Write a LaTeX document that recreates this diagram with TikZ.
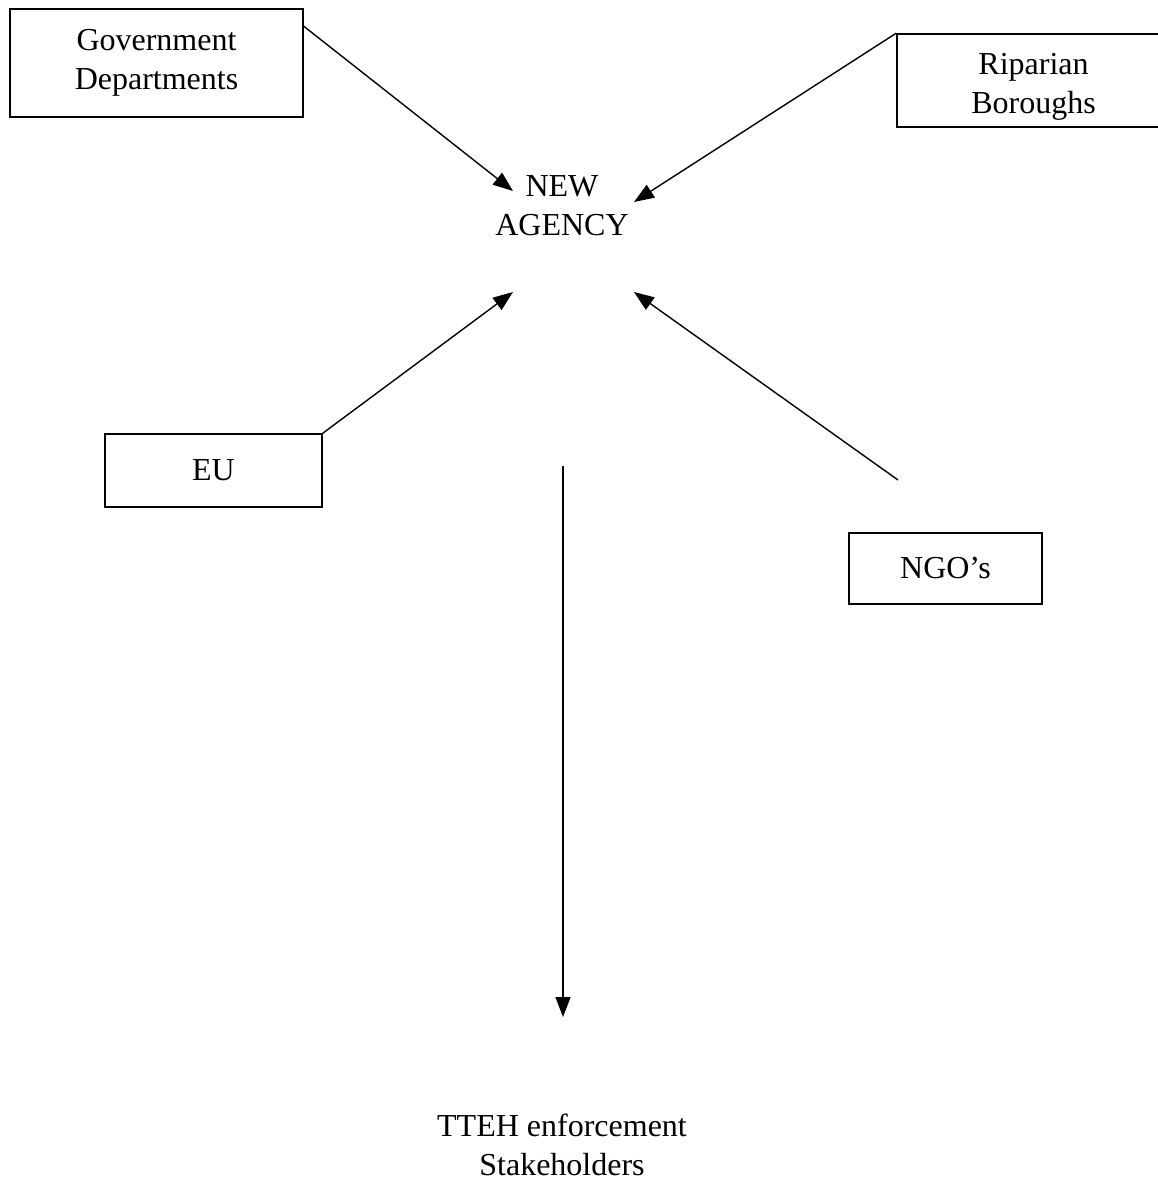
\documentclass[tikz,border=0pt]{standalone}
\usepackage{fontspec}
\setmainfont{Liberation Serif}
\usetikzlibrary{arrows.meta,calc}
\begin{document}
\begin{tikzpicture}[x=1pt,y=-1pt,
  txt/.style={inner sep=0pt,align=center,font=\fontsize{32}{39}\selectfont},
  box/.style={txt,draw,line width=1.6pt},
  link/.style={line width=1.4pt,-{Triangle[length=20pt,width=15pt]}}]
\useasboundingbox (0,0) rectangle (1157,1182);

% source boxes
\node[box,minimum width=293pt,minimum height=108pt] (gov) at (156.5,63) {Government\\Departments};
\node[box,minimum width=273pt,minimum height=93pt,
      label={[txt,yshift=-6pt]center:Riparian\\Boroughs}] (rip) at (1033.5,80.5) {};
\node[box,minimum width=217pt,minimum height=73pt] (eu) at (213.5,470.5) {EU};
\node[box,minimum width=193pt,minimum height=71pt] (ngo) at (945.5,568.5) {NGO's};

% central agency and downstream stakeholders
\node[txt] (agency) at (562,206) {NEW\\AGENCY};
\node[txt] (tteh) at (562,1145) {TTEH enforcement\\Stakeholders};

% arrow ends around the agency label
\coordinate (inNW) at (513,191);
\coordinate (inNE) at (634,202);
\coordinate (inSW) at (513,292);
\coordinate (inSE) at (634,292);
\coordinate (ngotail) at (898,480);
\coordinate (downtop) at (563,466);
\coordinate (downtip) at (563,1017);

\draw[link] (gov.14) -- (inNW);
\draw[link] (rip.north west) -- (inNE);
\draw[link] (eu.north east) -- (inSW);
\draw[link] (ngotail) -- (inSE);
\draw[link] (downtop) -- (downtip);
\end{tikzpicture}
\end{document}
